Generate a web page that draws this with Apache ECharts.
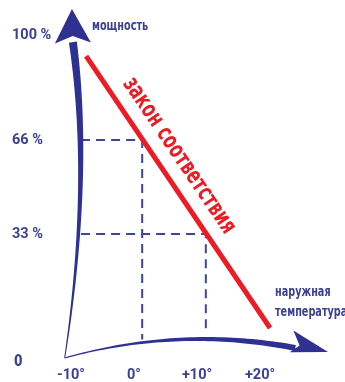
<!DOCTYPE html>
<html><head><meta charset="utf-8">
<script src="https://cdn.jsdelivr.net/npm/echarts@6/dist/echarts.min.js"></script>
<style>html,body{margin:0;padding:0;background:#fff}#c{width:345px;height:382px}</style>
</head><body><div id="c"></div>
<script>
// tick labels
const xTickValues = [-10, 0, 10, 20];      // outdoor temperature, °
const yTickValues = [33, 66, 100];         // power, %
// "law of correspondence": outdoor temperature -> power
const lawTemp  = [-7.6, 21.6];
const lawPower = [95.5, 0];
const lawName  = 'закон соответствия';
// dashed guides [temperature, power]
const guide66 = [[-8.4, 66], [1.3, 66], [1.3, -4]];
const guide33 = [[-8.4, 33], [11.4, 33], [11.4, -0.5]];
// curved axis arrows: origin, bend control, shaft end, tip (data units)
const yArrow = [[-11, -10.5], [-6.7, 52], [-9.7, 100.4], [-9.85, 112]];
const xArrow = [[-11, -10.5], [7.3, 0.7], [25.6, -7], [30.8, -8.4]];

const COND = "'DejaVu Sans Condensed',sans-serif";
const NARROW = "Roboto,'Liberation Sans',sans-serif";
const BLUE = '#2e3192', TXT = '#3b4096', RED = '#ed1c24', DASH = '#3d45a0';

function renderArrow(params, api) {
  const isY = params.dataIndex === 0;
  const def = isY ? yArrow : xArrow;
  const P0 = api.coord(def[0]), P1 = api.coord(def[1]), P2 = api.coord(def[2]), T = api.coord(def[3]);
  const w0 = 1, w1 = isY ? 8 : 6;
  const N = 48, L = [], R = [];
  for (let i = 0; i <= N; i++) {
    const t = i / N, u = 1 - t;
    const px = u*u*P0[0] + 2*u*t*P1[0] + t*t*P2[0];
    const py = u*u*P0[1] + 2*u*t*P1[1] + t*t*P2[1];
    let dx = 2*u*(P1[0]-P0[0]) + 2*t*(P2[0]-P1[0]);
    let dy = 2*u*(P1[1]-P0[1]) + 2*t*(P2[1]-P1[1]);
    const len = Math.hypot(dx, dy); dx /= len; dy /= len;
    const w = (w0 + (w1 - w0) * t) / 2;
    L.push([px - dy*w, py + dx*w]);
    R.push([px + dy*w, py - dx*w]);
  }
  const shaft = L.concat(R.reverse());
  let dx = T[0]-P2[0], dy = T[1]-P2[1];
  const len = Math.hypot(dx, dy); dx /= len; dy /= len;
  const nx = -dy, ny = dx;
  let head;
  if (isY) {
    head = [T,
      [T[0]-34*dx+18*nx, T[1]-34*dy+18*ny],
      [T[0]-27*dx, T[1]-27*dy],
      [T[0]-34*dx-18*nx, T[1]-34*dy-18*ny]];
  } else {
    const ux = dy, uy = -dx; // upward normal
    head = [T,
      [T[0]-37*dx+17*ux, T[1]-37*dy+17*uy],
      [T[0]-29*dx+3*ux, T[1]-29*dy+3*uy],
      [T[0]-38*dx-5*ux, T[1]-38*dy-5*uy]];
  }
  return {type:'group', children:[
    {type:'polygon', shape:{points:shaft}, style:{fill:BLUE}},
    {type:'polygon', shape:{points:head}, style:{fill:BLUE}}
  ]};
}

// label written along the law line (above it)
function renderLawLabel(params, api) {
  const A = api.coord([api.value(0), api.value(1)]);
  const B = api.coord([api.value(2), api.value(3)]);
  let dx = B[0]-A[0], dy = B[1]-A[1];
  const len = Math.hypot(dx, dy); dx /= len; dy /= len;
  const ux = dy, uy = -dx;
  return {type:'text',
    x: A[0] + 43*dx + 21*ux, y: A[1] + 43*dy + 21*uy,
    rotation: -Math.atan2(dy, dx), scaleX: 0.755,
    style:{text: lawName, fill: RED, font: 'bold 24px ' + COND, align:'left', verticalAlign:'middle'}};
}

const chart = echarts.init(document.getElementById('c'), null, {renderer:'canvas'});
const labelBase = {color:TXT, fontFamily:NARROW, fontWeight:'bold'};
chart.setOption({
  animation:false,
  backgroundColor:'#fff',
  grid:{left:58.4, right:22, top:29, bottom:19.8, containLabel:false, outerBoundsMode:'none'},
  xAxis:{type:'value', min:-12, max:30,
    axisLine:{show:false}, axisTick:{show:false}, splitLine:{show:false},
    axisLabel:Object.assign({customValues:xTickValues, formatter:v => (v>0?'+':'')+v+'°', fontSize:14.5, margin:6}, labelBase)},
  yAxis:{type:'value', min:-12, max:105,
    axisLine:{show:false}, axisTick:{show:false}, splitLine:{show:false},
    axisLabel:Object.assign({customValues:yTickValues,
      formatter:v => v === 100 ? '{t|' + v + ' %}' : v + ' %',
      rich:{t:{padding:[0,0,16,0], color:TXT, fontFamily:NARROW, fontWeight:'bold', fontSize:14.5}},
      fontSize:14.5, align:'left', margin:46.4}, labelBase)},
  series:[
    {type:'line', data:guide66, symbol:'none', silent:true, z:2,
      lineStyle:{color:DASH, width:2, type:[9,6]}},
    {type:'line', data:guide33, symbol:'none', silent:true, z:2,
      lineStyle:{color:DASH, width:2, type:[9,6]}},
    {type:'line', data:lawTemp.map((t,i)=>[t, lawPower[i]]), symbol:'none', silent:true, z:4,
      lineStyle:{color:RED, width:5, cap:'butt'}},
    {type:'custom', renderItem:renderLawLabel, silent:true, z:4, clip:false,
      data:[[lawTemp[0], lawPower[0], lawTemp[1], lawPower[1]]], encode:{x:[0,2], y:[1,3]}},
    {type:'custom', renderItem:renderArrow, data:[yArrow[0], xArrow[0]], encode:{x:0, y:1}, clip:false, silent:true, z:5}
  ],
  graphic:[
    {type:'text', left:92, top:19, scaleX:0.77, style:{text:'мощность', fill:TXT, font:"bold 14px "+COND}},
    {type:'text', left:275, top:285, scaleX:0.77, style:{text:'наружная', fill:TXT, font:"bold 14px "+COND}},
    {type:'text', left:275, top:305, scaleX:0.77, style:{text:'температура', fill:TXT, font:"bold 14px "+COND}},
    {type:'text', left:14, top:354, scaleX:0.85, style:{text:'0', fill:TXT, font:"bold 16px "+COND}}
  ]
});
</script>
</body></html>
